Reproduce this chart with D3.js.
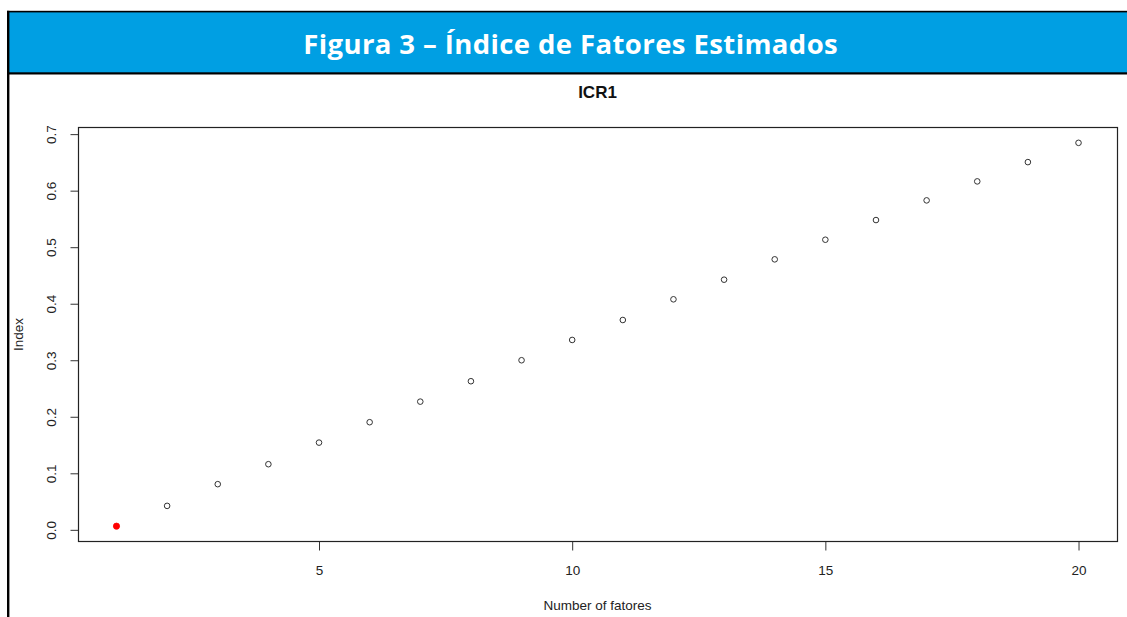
<!DOCTYPE html>
<html>
<head>
<meta charset="utf-8">
<script src="https://cdn.jsdelivr.net/npm/d3@7"></script>
<style>
  html, body { margin: 0; padding: 0; background: #fff; }
  svg { display: block; }
</style>
</head>
<body>
<svg id="chart" width="1127" height="617"></svg>
<script>
// Number of factors and the estimated ICR1 index for each
const factors = [1, 2, 3, 4, 5, 6, 7, 8, 9, 10, 11, 12, 13, 14, 15, 16, 17, 18, 19, 20];
const indexValues = [0.0065, 0.0424, 0.0808, 0.1161, 0.1543, 0.1904, 0.2268, 0.2629, 0.3000, 0.3359,
                     0.3712, 0.4078, 0.4425, 0.4785, 0.5132, 0.5480, 0.5828, 0.6164, 0.6505, 0.6846];
// Factor count picked by the criterion (minimum index), drawn in red
const selectedFactor = 1;

const xTicks = [5, 10, 15, 20];
const yTicks = [0.0, 0.1, 0.2, 0.3, 0.4, 0.5, 0.6, 0.7];

const headerTitle = "Figura 3 – Índice de Fatores Estimados";
const plotTitle = "ICR1";
const xLabel = "Number of fatores";
const yLabel = "Index";

const svg = d3.select("#chart");
const W = 1127, H = 617;

// ---- header band ----
svg.append("rect").attr("x", 0).attr("y", 0).attr("width", W).attr("height", H).attr("fill", "#fff");
svg.append("rect").attr("x", 8).attr("y", 11).attr("width", W - 8).attr("height", 63).attr("fill", "#009FE3");
svg.append("rect").attr("x", 7).attr("y", 10.8).attr("width", W - 7).attr("height", 1.6).attr("fill", "#000");
svg.append("rect").attr("x", 7).attr("y", 72.3).attr("width", W - 7).attr("height", 2.2).attr("fill", "#000");
svg.append("rect").attr("x", 7).attr("y", 10.8).attr("width", 2.4).attr("height", H - 10.8).attr("fill", "#000");

const head = svg.append("text")
  .attr("x", 570.5).attr("y", 54)
  .attr("text-anchor", "middle")
  .attr("fill", "#fff")
  .style("font-family", "'Open Sans', 'DejaVu Sans', sans-serif")
  .style("font-weight", 700)
  .style("font-size", "27.5px")
  .text(headerTitle);
// widen the heading evenly to its intended span
(function () {
  const target = 535;
  const w = head.node().getComputedTextLength();
  const n = headerTitle.length;
  const ls = (target - w) / n;
  head.style("letter-spacing", ls + "px").attr("x", 570.5 + ls / 2);
})();

// ---- plot area ----
const plot = { left: 78, right: 1117, top: 127.5, bottom: 541.5 };

// R-style 4% padding around the data range
const xExt = d3.extent(factors), yExt = d3.extent(indexValues);
const xPad = (xExt[1] - xExt[0]) * 0.04, yPad = (yExt[1] - yExt[0]) * 0.04;

const x = d3.scaleLinear().domain([xExt[0] - xPad, xExt[1] + xPad]).range([plot.left, plot.right]);
const y = d3.scaleLinear().domain([yExt[0] - yPad, yExt[1] + yPad]).range([plot.bottom, plot.top]);

const axisFont = "'Liberation Sans', Arial, sans-serif";
const ink = "#222";

// y axis
const gy = svg.append("g").attr("transform", `translate(${plot.left + 0.5},0)`)
  .call(d3.axisLeft(y).tickValues(yTicks).tickSize(8).tickFormat(d3.format(".1f")));
gy.select(".domain").remove();
gy.selectAll(".tick line").attr("stroke", "#333");
gy.selectAll(".tick text")
  .attr("transform", "rotate(-90)")
  .attr("x", 0).attr("y", -23).attr("dy", null)
  .attr("text-anchor", "middle")
  .attr("fill", ink)
  .style("font-family", axisFont).style("font-size", "13.5px");

// x axis
const gx = svg.append("g").attr("transform", `translate(0,${plot.bottom})`)
  .call(d3.axisBottom(x).tickValues(xTicks).tickSize(9).tickFormat(d3.format("d")));
gx.select(".domain").remove();
gx.selectAll(".tick line").attr("stroke", "#333");
gx.selectAll(".tick text")
  .attr("y", 33.5).attr("dy", null)
  .attr("fill", ink)
  .style("font-family", axisFont).style("font-size", "13.5px");

// plot frame
svg.append("rect")
  .attr("x", plot.left + 0.5).attr("y", plot.top)
  .attr("width", plot.right - plot.left).attr("height", plot.bottom - plot.top)
  .attr("fill", "none").attr("stroke", "#222").attr("stroke-width", 1.2);

// points
const pts = factors.map((f, i) => ({ f, v: indexValues[i] }));
svg.append("g").selectAll("circle")
  .data(pts)
  .join("circle")
  .attr("cx", d => x(d.f))
  .attr("cy", d => y(d.v))
  .attr("r", d => d.f === selectedFactor ? 3.1 : 2.8)
  .attr("fill", d => d.f === selectedFactor ? "#ff0000" : "none")
  .attr("stroke", d => d.f === selectedFactor ? "#ff0000" : "#333")
  .attr("stroke-width", d => d.f === selectedFactor ? 0.8 : 1);

// titles
svg.append("text")
  .attr("x", (plot.left + plot.right) / 2).attr("y", 98)
  .attr("text-anchor", "middle").attr("fill", "#111")
  .style("font-family", axisFont).style("font-weight", 700).style("font-size", "17px")
  .text(plotTitle);

svg.append("text")
  .attr("x", (plot.left + plot.right) / 2).attr("y", 610)
  .attr("text-anchor", "middle").attr("fill", ink)
  .style("font-family", axisFont).style("font-size", "13.5px")
  .text(xLabel);

svg.append("text")
  .attr("transform", `translate(22.5,${(plot.top + plot.bottom) / 2}) rotate(-90)`)
  .attr("text-anchor", "middle").attr("fill", ink)
  .style("font-family", axisFont).style("font-size", "13.5px")
  .text(yLabel);
</script>
</body>
</html>
